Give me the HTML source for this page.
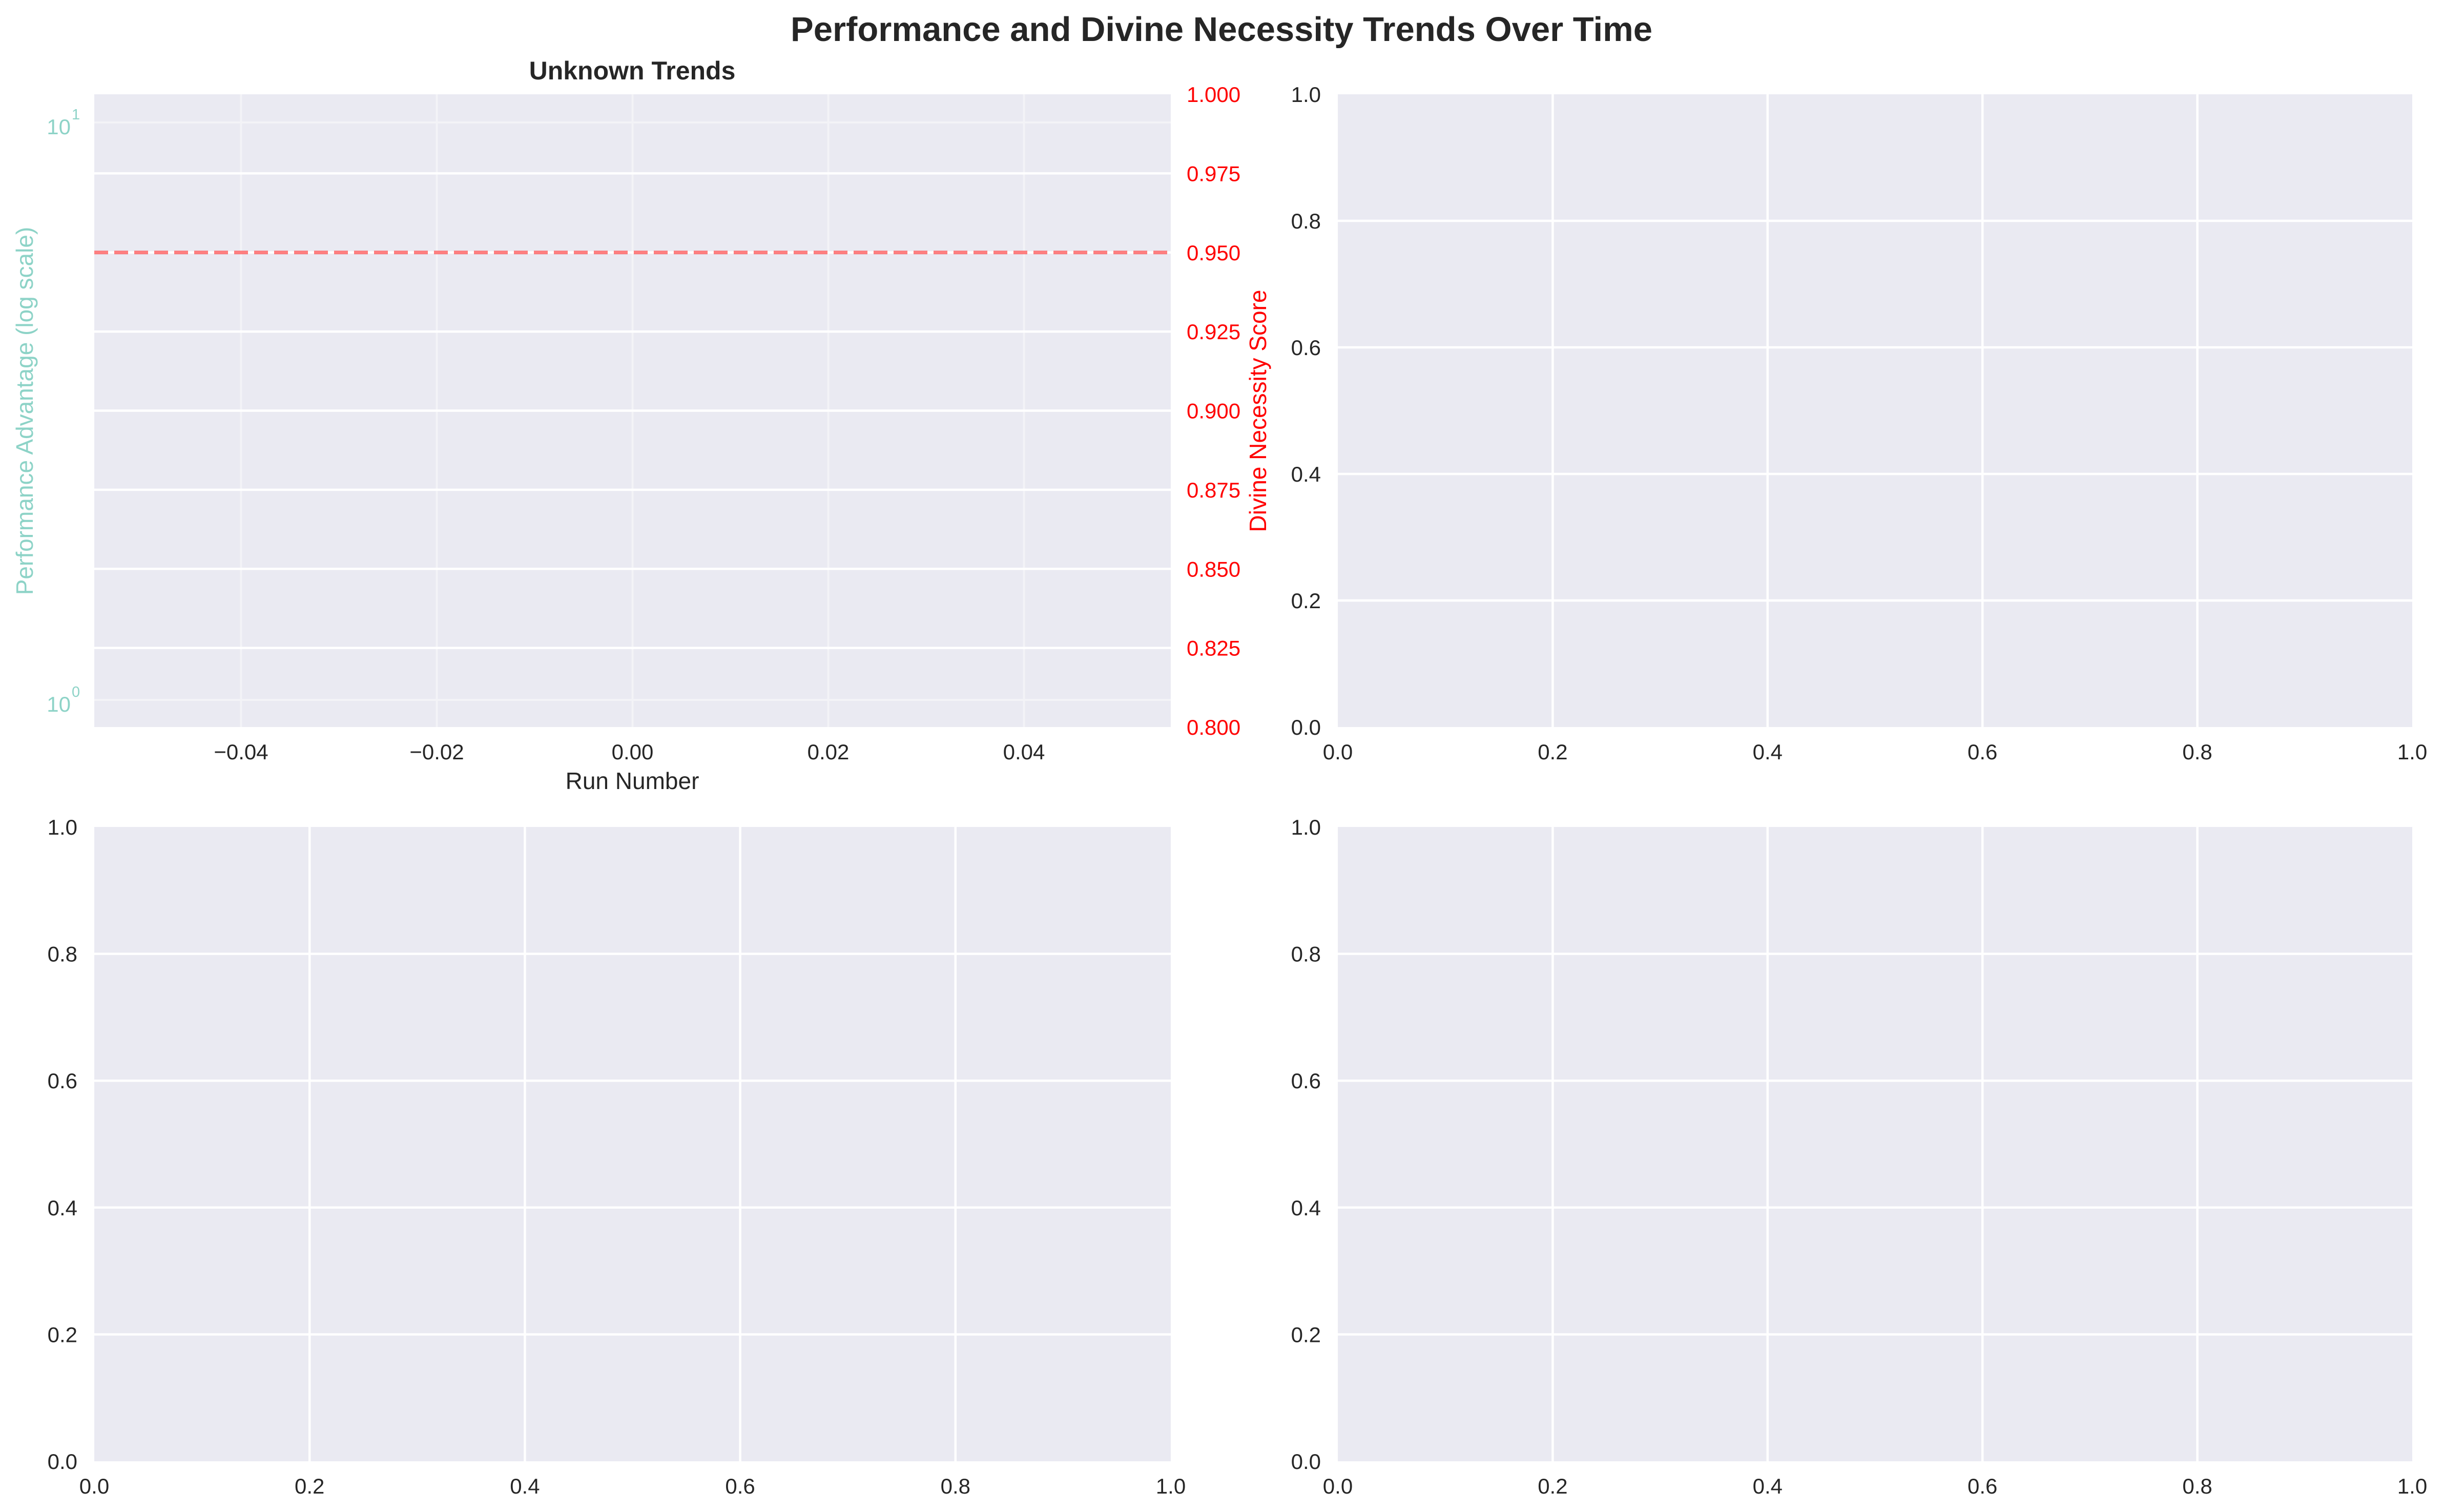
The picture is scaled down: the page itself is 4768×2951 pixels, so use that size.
<!DOCTYPE html>
<html><head><meta charset="utf-8"><style>
html,body{margin:0;padding:0;background:#fff;}
svg{display:block;font-family:"Liberation Sans",Arial,sans-serif;}
</style></head><body>
<svg id="fig" width="4768" height="2951" viewBox="0 0 4768 2951" xmlns="http://www.w3.org/2000/svg">
<text x="2384" y="80" font-size="67" font-weight="bold" fill="#262626" text-anchor="middle">Performance and Divine Necessity Trends Over Time</text>
</svg>
<script>
// ---- data ----
const runXTicks = [-0.04, -0.02, 0.00, 0.02, 0.04];
const runXTickLabels = ["\u22120.04", "\u22120.02", "0.00", "0.02", "0.04"];
const perfLogTicks = [0, 1];
const divineTicks = [0.800, 0.825, 0.850, 0.875, 0.900, 0.925, 0.950, 0.975, 1.000];
const divineTickLabels = ["0.800","0.825","0.850","0.875","0.900","0.925","0.950","0.975","1.000"];
const divineThreshold = [0.95];
const emptyTicks = [0, 0.2, 0.4, 0.6, 0.8, 1.0];
const emptyTickLabels = ["0.0","0.2","0.4","0.6","0.8","1.0"];

const NS = "http://www.w3.org/2000/svg";
const svg = document.getElementById('fig');
function mk(tag, attrs, parent, text){
  const e = document.createElementNS(NS, tag);
  for (const k in attrs) e.setAttribute(k, attrs[k]);
  if (text !== undefined) e.textContent = text;
  (parent || svg).appendChild(e);
  return e;
}

// ---- top-left panel ----
const P1 = {l:184, r:2285, t:184, b:1419};
const xMin = -0.055, xMax = 0.055;
const xs = v => P1.l + (v - xMin) / (xMax - xMin) * (P1.r - P1.l);
const logY = e => 1366 - e * 1127; // 10^e
const dMin = 0.8, dMax = 1.0;
const yd = v => P1.b - (v - dMin) / (dMax - dMin) * (P1.b - P1.t);

const g1 = mk('g', {});


const bg1 = mk('rect', {x:P1.l, y:P1.t, width:P1.r-P1.l, height:P1.b-P1.t, fill:'#eaeaf2'}, g1);


runXTicks.forEach(v => {
  const l = mk('line', {x1:xs(v), x2:xs(v), y1:P1.t, y2:P1.b, stroke:'#f3f3f7', 'stroke-width':4}, g1);
  
  
});
perfLogTicks.forEach(e => {
  const l = mk('line', {x1:P1.l, x2:P1.r, y1:logY(e), y2:logY(e), stroke:'#f3f3f7', 'stroke-width':4}, g1);
  
  
});
divineTicks.forEach(v => {
  if (v <= dMin || v >= dMax) return;
  const l = mk('line', {x1:P1.l, x2:P1.r, y1:yd(v), y2:yd(v), stroke:'#ffffff', 'stroke-width':4.5}, g1);
  
  
});
divineThreshold.forEach(v => {
  const l = mk('line', {x1:P1.l, x2:P1.r, y1:yd(v), y2:yd(v), stroke:'#ff0000', 'stroke-opacity':0.5, 'stroke-width':7, 'stroke-dasharray':'27 12'}, g1);
  
  
});
runXTicks.forEach((v, i) => {
  const t = mk('text', {x:xs(v), y:1482, 'font-size':42, fill:'#262626', 'text-anchor':'middle'}, g1, runXTickLabels[i]);
  
  
});
perfLogTicks.forEach(e => {
  const t = mk('text', {x:138, y:logY(e)+23, 'font-size':42, fill:'#8dd3c7', 'text-anchor':'end'}, g1, '10');
  
  
  const s = mk('text', {x:140, y:logY(e)-6, 'font-size':29, fill:'#8dd3c7'}, g1, String(e));
  
  
});
divineTicks.forEach((v, i) => {
  const t = mk('text', {x:2316, y:yd(v)+15, 'font-size':42, fill:'#ff0000'}, g1, divineTickLabels[i]);
  
  
});
const tt = mk('text', {x:1234, y:155, 'font-size':50, 'font-weight':'bold', fill:'#262626', 'text-anchor':'middle'}, g1, 'Unknown Trends');


const xl = mk('text', {x:1234, y:1540, 'font-size':46, fill:'#262626', 'text-anchor':'middle'}, g1, 'Run Number');


const yl = mk('text', {x:0, y:0, 'font-size':46, fill:'#8dd3c7', 'text-anchor':'middle', transform:'translate(64,802) rotate(-90)'}, g1, 'Performance Advantage (log scale)');


const yr = mk('text', {x:0, y:0, 'font-size':46, fill:'#ff0000', 'text-anchor':'middle', transform:'translate(2471,802) rotate(-90)'}, g1, 'Divine Necessity Score');



// ---- empty panels ----
const panels = [
  {l:2611, r:4708, t:184, b:1419, name:'top-right-panel'},
  {l:184, r:2285, t:1614, b:2852, name:'bottom-left-panel'},
  {l:2611, r:4708, t:1614, b:2852, name:'bottom-right-panel'}
];
panels.forEach(P => {
  const g = mk('g', {});
  
  
  const bg = mk('rect', {x:P.l, y:P.t, width:P.r-P.l, height:P.b-P.t, fill:'#eaeaf2'}, g);
  
  
  const px = v => P.l + v * (P.r - P.l);
  const py = v => P.b - v * (P.b - P.t);
  emptyTicks.forEach((v, i) => {
    if (v > 0 && v < 1) {
      const a = mk('line', {x1:px(v), x2:px(v), y1:P.t, y2:P.b, stroke:'#fff', 'stroke-width':4.5}, g);
      
      
      const b = mk('line', {x1:P.l, x2:P.r, y1:py(v), y2:py(v), stroke:'#fff', 'stroke-width':4.5}, g);
      
      
    }
    const tx = mk('text', {x:px(v), y:P.b+63, 'font-size':42, fill:'#262626', 'text-anchor':'middle'}, g, emptyTickLabels[i]);
    
    
    const ty = mk('text', {x:P.l-33, y:py(v)+15, 'font-size':42, fill:'#262626', 'text-anchor':'end'}, g, emptyTickLabels[i]);
    
    
  });
});
</script>
</body></html>
